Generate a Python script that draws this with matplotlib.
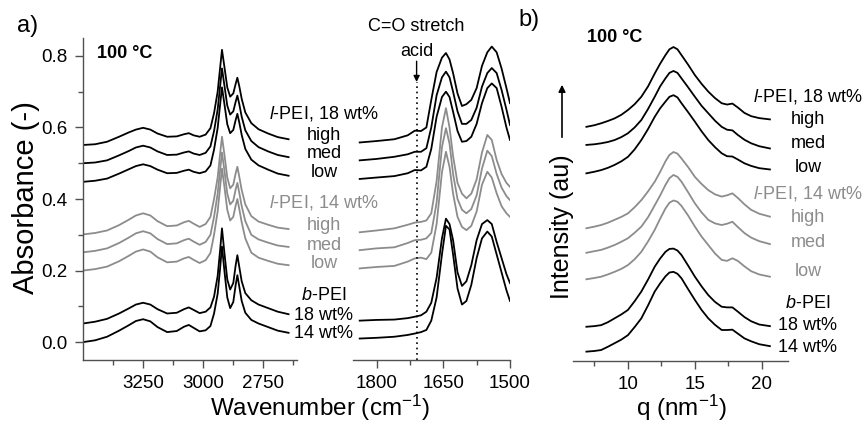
import matplotlib
matplotlib.use('Agg')
import matplotlib.pyplot as plt
from matplotlib.ticker import FixedLocator
from matplotlib.patches import FancyArrowPatch

plt.rcParams['font.family'] = ['Liberation Sans', 'DejaVu Sans']
plt.rcParams['mathtext.fontset'] = 'custom'
plt.rcParams['mathtext.rm'] = 'Liberation Sans'
plt.rcParams['mathtext.it'] = 'Liberation Sans:italic'
plt.rcParams['mathtext.bf'] = 'Liberation Sans:bold'

# ---------------- data: FTIR, high wavenumber region ----------------
wn_hi = [3500, 3450, 3400, 3350, 3310, 3280, 3250, 3220, 3190, 3150, 3110, 3080, 3060, 3040,
         3015, 2990, 2970, 2955, 2940, 2930, 2922, 2912, 2900, 2888, 2875, 2865, 2858, 2850,
         2840, 2825, 2800, 2770, 2730, 2690, 2645]
l18_high_hi = [0.551, 0.553, 0.560, 0.574, 0.586, 0.594, 0.599, 0.594, 0.583, 0.574, 0.575, 0.581, 0.584, 0.578,
               0.574, 0.580, 0.598, 0.640, 0.700, 0.765, 0.817, 0.770, 0.712, 0.686, 0.695, 0.722, 0.739, 0.715,
               0.680, 0.642, 0.612, 0.595, 0.583, 0.573, 0.567]
l18_med_hi = [0.500, 0.502, 0.508, 0.522, 0.534, 0.544, 0.549, 0.544, 0.533, 0.523, 0.524, 0.530, 0.533, 0.527,
              0.523, 0.529, 0.547, 0.590, 0.650, 0.714, 0.765, 0.718, 0.661, 0.636, 0.645, 0.672, 0.689, 0.665,
              0.630, 0.592, 0.562, 0.545, 0.533, 0.523, 0.517]
l18_low_hi = [0.448, 0.451, 0.457, 0.471, 0.483, 0.492, 0.497, 0.492, 0.482, 0.472, 0.473, 0.479, 0.482, 0.476,
              0.472, 0.477, 0.494, 0.538, 0.598, 0.662, 0.712, 0.666, 0.609, 0.584, 0.593, 0.621, 0.638, 0.614,
              0.579, 0.540, 0.510, 0.494, 0.482, 0.471, 0.465]
l14_high_hi = [0.301, 0.305, 0.312, 0.327, 0.342, 0.354, 0.360, 0.354, 0.338, 0.324, 0.326, 0.335, 0.339, 0.331,
               0.322, 0.330, 0.350, 0.400, 0.460, 0.525, 0.574, 0.525, 0.460, 0.430, 0.440, 0.472, 0.490, 0.462,
               0.425, 0.385, 0.352, 0.337, 0.328, 0.320, 0.316]
l14_med_hi = [0.251, 0.255, 0.262, 0.277, 0.292, 0.304, 0.310, 0.304, 0.288, 0.274, 0.276, 0.285, 0.289, 0.281,
              0.272, 0.280, 0.300, 0.350, 0.415, 0.480, 0.530, 0.480, 0.415, 0.385, 0.395, 0.427, 0.445, 0.417,
              0.380, 0.338, 0.300, 0.287, 0.278, 0.270, 0.266]
l14_low_hi = [0.200, 0.204, 0.211, 0.226, 0.241, 0.253, 0.259, 0.253, 0.237, 0.223, 0.225, 0.234, 0.238, 0.230,
              0.221, 0.229, 0.249, 0.300, 0.365, 0.432, 0.485, 0.435, 0.370, 0.340, 0.350, 0.382, 0.400, 0.372,
              0.335, 0.290, 0.250, 0.236, 0.227, 0.219, 0.215]
b18_hi = [0.052, 0.057, 0.065, 0.080, 0.094, 0.105, 0.110, 0.105, 0.092, 0.080, 0.082, 0.092, 0.097, 0.090,
          0.081, 0.085, 0.097, 0.127, 0.185, 0.255, 0.318, 0.250, 0.175, 0.147, 0.165, 0.215, 0.243, 0.210,
          0.170, 0.137, 0.117, 0.105, 0.095, 0.085, 0.078]
b14_hi = [0.000, 0.005, 0.015, 0.032, 0.047, 0.059, 0.064, 0.058, 0.042, 0.028, 0.031, 0.043, 0.048, 0.040,
          0.030, 0.033, 0.045, 0.080, 0.135, 0.205, 0.267, 0.200, 0.125, 0.095, 0.112, 0.160, 0.187, 0.155,
          0.115, 0.082, 0.062, 0.052, 0.042, 0.032, 0.026]

# ---------------- data: FTIR, carbonyl region ----------------
wn_lo = [1838, 1800, 1760, 1730, 1714, 1700, 1688, 1677, 1665, 1653, 1644, 1636, 1628,
         1618, 1608, 1598, 1587, 1575, 1563, 1551, 1541, 1530, 1519, 1508, 1500]
l18_high_lo = [0.558, 0.562, 0.567, 0.578, 0.591, 0.590, 0.600, 0.677, 0.755, 0.795, 0.808, 0.790, 0.752,
               0.695, 0.660, 0.665, 0.677, 0.710, 0.772, 0.810, 0.826, 0.810, 0.765, 0.710, 0.668]
l18_med_lo = [0.508, 0.512, 0.518, 0.525, 0.532, 0.532, 0.542, 0.600, 0.690, 0.740, 0.756, 0.740, 0.700,
              0.645, 0.610, 0.610, 0.621, 0.655, 0.714, 0.752, 0.766, 0.752, 0.705, 0.650, 0.607]
l18_low_lo = [0.456, 0.460, 0.464, 0.472, 0.481, 0.480, 0.490, 0.540, 0.630, 0.685, 0.700, 0.685, 0.644,
              0.590, 0.560, 0.562, 0.574, 0.610, 0.668, 0.710, 0.723, 0.710, 0.658, 0.600, 0.565]
l14_high_lo = [0.307, 0.312, 0.318, 0.328, 0.334, 0.336, 0.340, 0.360, 0.450, 0.600, 0.654, 0.600, 0.520,
               0.445, 0.415, 0.402, 0.415, 0.455, 0.530, 0.579, 0.565, 0.509, 0.470, 0.445, 0.434]
l14_med_lo = [0.257, 0.262, 0.265, 0.277, 0.285, 0.286, 0.290, 0.305, 0.390, 0.545, 0.598, 0.555, 0.470,
              0.400, 0.370, 0.360, 0.372, 0.410, 0.485, 0.535, 0.520, 0.470, 0.432, 0.408, 0.397]
l14_low_lo = [0.206, 0.210, 0.213, 0.225, 0.234, 0.236, 0.232, 0.250, 0.330, 0.475, 0.532, 0.490, 0.415,
              0.350, 0.322, 0.313, 0.325, 0.365, 0.440, 0.476, 0.460, 0.416, 0.380, 0.360, 0.350]
b18_lo = [0.060, 0.062, 0.063, 0.067, 0.071, 0.075, 0.085, 0.110, 0.180, 0.290, 0.345, 0.330, 0.285,
          0.195, 0.157, 0.170, 0.215, 0.285, 0.330, 0.341, 0.330, 0.280, 0.235, 0.190, 0.165]
b14_lo = [0.010, 0.012, 0.015, 0.020, 0.024, 0.028, 0.034, 0.060, 0.125, 0.245, 0.325, 0.315, 0.245,
          0.150, 0.105, 0.115, 0.160, 0.235, 0.290, 0.309, 0.295, 0.245, 0.195, 0.145, 0.115]
acid_wn = 1710

# ---------------- data: SAXS ----------------
q = [6.9, 7.5, 8, 8.5, 9, 9.5, 10, 10.5, 11, 11.5, 12, 12.4, 12.8, 13.1, 13.4, 13.7, 14, 14.5,
     15, 15.5, 16, 16.5, 17, 17.4, 17.8, 18.2, 18.7, 19.2, 19.8, 20.6]
s_l18_high = [7.25, 7.30, 7.36, 7.43, 7.51, 7.62, 7.77, 7.95, 8.18, 8.50, 8.90, 9.20, 9.47, 9.65, 9.72, 9.65,
              9.47, 9.17, 8.85, 8.58, 8.34, 8.14, 7.98, 7.94, 7.97, 7.85, 7.68, 7.58, 7.52, 7.48]
s_l18_med = [6.69, 6.71, 6.74, 6.78, 6.84, 6.93, 7.05, 7.23, 7.46, 7.80, 8.18, 8.50, 8.75, 8.92, 8.98, 8.92,
             8.75, 8.47, 8.18, 7.90, 7.67, 7.44, 7.25, 7.16, 7.14, 7.00, 6.85, 6.74, 6.65, 6.58]
s_l18_low = [5.81, 5.86, 5.91, 5.98, 6.07, 6.18, 6.32, 6.55, 6.84, 7.18, 7.56, 7.82, 8.03, 8.18, 8.23, 8.16,
             7.98, 7.70, 7.41, 7.11, 6.84, 6.62, 6.43, 6.34, 6.33, 6.24, 6.12, 6.04, 5.97, 5.93]
s_l14_high = [4.11, 4.16, 4.21, 4.28, 4.37, 4.46, 4.57, 4.76, 4.98, 5.25, 5.55, 5.85, 6.18, 6.38, 6.47, 6.42,
              6.27, 6.00, 5.70, 5.48, 5.29, 5.16, 5.09, 5.13, 5.19, 5.05, 4.85, 4.68, 4.56, 4.47]
s_l14_med = [3.35, 3.40, 3.44, 3.51, 3.59, 3.69, 3.80, 3.97, 4.16, 4.45, 4.82, 5.12, 5.45, 5.66, 5.76, 5.70,
             5.55, 5.22, 4.88, 4.60, 4.37, 4.26, 4.21, 4.25, 4.31, 4.15, 3.96, 3.82, 3.71, 3.62]
s_l14_low = [2.53, 2.57, 2.61, 2.68, 2.76, 2.85, 2.97, 3.15, 3.38, 3.70, 4.06, 4.40, 4.72, 4.90, 4.97, 4.93,
             4.80, 4.50, 4.16, 3.85, 3.59, 3.33, 3.13, 3.10, 3.18, 3.10, 2.93, 2.78, 2.68, 2.61]
s_b18 = [1.06, 1.08, 1.11, 1.20, 1.32, 1.44, 1.58, 1.85, 2.15, 2.52, 2.92, 3.17, 3.38, 3.47, 3.48, 3.42,
         3.28, 2.95, 2.61, 2.31, 2.04, 1.83, 1.68, 1.66, 1.66, 1.53, 1.36, 1.23, 1.13, 1.08]
s_b14 = [0.29, 0.31, 0.34, 0.44, 0.55, 0.66, 0.80, 1.05, 1.32, 1.72, 2.15, 2.40, 2.62, 2.74, 2.76, 2.70,
         2.56, 2.22, 1.89, 1.58, 1.32, 1.12, 0.96, 0.96, 0.97, 0.85, 0.70, 0.61, 0.52, 0.46]

BLACK = '#000000'
GRAY = '#8c8c8c'
AXC = '#505050'

W, H = 867, 424
fig = plt.figure(figsize=(W / 100, H / 100), dpi=100)


def fx(px):
    return px / W


def fy(py):
    return 1 - py / H


ax1 = fig.add_axes([fx(83), fy(360), fx(297) - fx(83), fy(38) - fy(360)])
ax2 = fig.add_axes([fx(353), fy(360), fx(510) - fx(353), fy(38) - fy(360)])
ax3 = fig.add_axes([fx(573), fy(361), fx(788) - fx(573), fy(38) - fy(361)])

lw = 1.3
hi_series = [(l18_high_hi, BLACK), (l18_med_hi, BLACK), (l18_low_hi, BLACK),
             (l14_high_hi, GRAY), (l14_med_hi, GRAY), (l14_low_hi, GRAY),
             (b18_hi, BLACK), (b14_hi, BLACK)]
lo_series = [(l18_high_lo, BLACK), (l18_med_lo, BLACK), (l18_low_lo, BLACK),
             (l14_high_lo, GRAY), (l14_med_lo, GRAY), (l14_low_lo, GRAY),
             (b18_lo, BLACK), (b14_lo, BLACK)]
saxs_series = [(s_l18_high, BLACK), (s_l18_med, BLACK), (s_l18_low, BLACK),
               (s_l14_high, GRAY), (s_l14_med, GRAY), (s_l14_low, GRAY),
               (s_b18, BLACK), (s_b14, BLACK)]

for ys, c in hi_series:
    ax1.plot(wn_hi, ys, color=c, lw=lw, solid_joinstyle='round')
for ys, c in lo_series:
    ax2.plot(wn_lo, ys, color=c, lw=lw, solid_joinstyle='round')
for ys, c in saxs_series:
    ax3.plot(q, ys, color=c, lw=lw, solid_joinstyle='round')

ax1.set_xlim(3500, 2610)
ax2.set_xlim(1853, 1500)
for a in (ax1, ax2):
    a.set_ylim(-0.05, 0.85)
ax3.set_xlim(5.9, 21.95)
ax3.set_ylim(0, 10)

for a in (ax1, ax2, ax3):
    a.patch.set_alpha(0)
    for s in ('top', 'right'):
        a.spines[s].set_visible(False)
    for s in ('left', 'bottom'):
        a.spines[s].set_color(AXC)
        a.spines[s].set_linewidth(1.0)
    a.tick_params(which='both', direction='out', colors=AXC, labelcolor='black',
                  labelsize=13.5, width=1.0)
    a.tick_params(which='major', length=6, pad=5)
    a.tick_params(which='minor', length=3.5)

for a in (ax2, ax3):
    a.spines['left'].set_visible(False)
    a.yaxis.set_visible(False)

ax1.yaxis.set_major_locator(FixedLocator([0.0, 0.2, 0.4, 0.6, 0.8]))
ax1.yaxis.set_minor_locator(FixedLocator([0.1, 0.3, 0.5, 0.7]))
ax1.set_yticklabels(['0.0', '0.2', '0.4', '0.6', '0.8'])
ax1.xaxis.set_major_locator(FixedLocator([3250, 3000, 2750]))
ax1.xaxis.set_minor_locator(FixedLocator([3375, 3125, 2875, 2625]))
ax2.xaxis.set_major_locator(FixedLocator([1800, 1650, 1500]))
ax2.xaxis.set_minor_locator(FixedLocator([1725, 1575]))
ax3.xaxis.set_major_locator(FixedLocator([10, 15, 20]))
ax3.xaxis.set_minor_locator(FixedLocator([7.5, 12.5, 17.5]))

# acid marker
ax2.vlines(acid_wn, -0.05, 0.727, colors='black', linestyles=(0, (1.0, 2.2)), lw=1.2)
ax2.annotate('', xy=(acid_wn, 0.727), xytext=(acid_wn, 0.785), annotation_clip=False,
             arrowprops=dict(arrowstyle='-|>', color='black', lw=1.0, mutation_scale=9,
                             shrinkA=0, shrinkB=0))
ax2.text(acid_wn, 0.812, 'acid', ha='center', va='center', fontsize=13, clip_on=False)
ax2.text(acid_wn, 0.882, 'C=O stretch', ha='center', va='center', fontsize=13, clip_on=False)

# titles / axis labels
fig.text(fx(17), fy(26), 'a)', fontsize=17, ha='left', va='center')
fig.text(fx(518), fy(20), 'b)', fontsize=17, ha='left', va='center')
fig.text(fx(97), fy(53), '100 °C', fontsize=13, fontweight='bold', ha='left', va='center')
fig.text(fx(587), fy(38), '100 °C', fontsize=13, fontweight='bold', ha='left', va='center')
fig.text(fx(26), fy(198), 'Absorbance (-)', fontsize=21, rotation=90, ha='center', va='center')
fig.text(fx(320), fy(408), 'Wavenumber (cm$^{-1}$)', fontsize=17.5, ha='center', va='center')
fig.text(fx(681), fy(408), 'q (nm$^{-1}$)', fontsize=17.5, ha='center', va='center')
fig.text(fx(562), fy(227), 'Intensity (au)', fontsize=18, rotation=90, ha='center', va='center')
fig.add_artist(FancyArrowPatch(
    (fx(562), fy(140)), (fx(562), fy(82)), transform=fig.transFigure,
    arrowstyle='-|>', mutation_scale=10, color='black', lw=1.2))

# series labels
L18 = r'$\mathit{l}$-PEI, 18 wt%'
L14 = r'$\mathit{l}$-PEI, 14 wt%'
BP = r'$\mathit{b}$-PEI'
labels_a = [(L18, 113, BLACK), ('high', 135, BLACK), ('med', 154, BLACK), ('low', 173, BLACK),
            (L14, 203, GRAY), ('high', 225, GRAY), ('med', 245, GRAY), ('low', 263, GRAY),
            (BP, 296, BLACK), ('18 wt%', 315, BLACK), ('14 wt%', 333, BLACK)]
labels_b = [(L18, 97, BLACK), ('high', 120, BLACK), ('med', 143, BLACK), ('low', 168, BLACK),
            (L14, 194, GRAY), ('high', 217, GRAY), ('med', 243, GRAY), ('low', 272, GRAY),
            (BP, 304, BLACK), ('18 wt%', 326, BLACK), ('14 wt%', 347, BLACK)]
for t, py, c in labels_a:
    fig.text(fx(324), fy(py), t, fontsize=13, color=c, ha='center', va='center')
for t, py, c in labels_b:
    fig.text(fx(808), fy(py), t, fontsize=13, color=c, ha='center', va='center')

fig.savefig('out.png', dpi=100)
